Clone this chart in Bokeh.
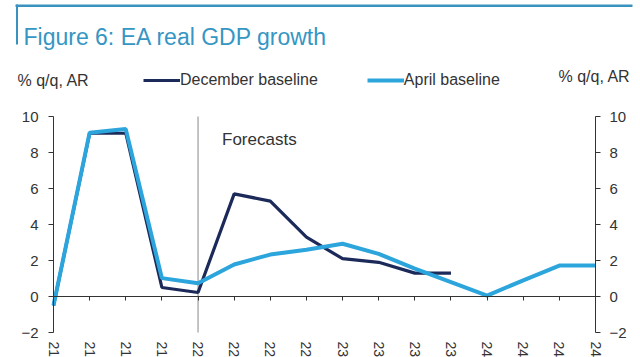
from bokeh.plotting import figure
from bokeh.models import (Range1d, LinearAxis, FixedTicker, Label, Legend, LegendItem,
                          BoxAnnotation)
from bokeh.embed import file_html
from bokeh.resources import INLINE

# ---- data ----
quarter_labels = ["21", "21", "21", "21", "22", "22", "22", "22",
                  "23", "23", "23", "23", "24", "24", "24", "24"]
december_baseline = [-0.5, 9.07, 9.07, 0.5, 0.22, 5.7, 5.3, 3.3, 2.1, 1.9, 1.3, 1.3]
april_baseline = [-0.5, 9.1, 9.3, 1.02, 0.74, 1.78, 2.33, 2.6, 2.93, 2.37, 1.55, 0.8,
                  0.05, 0.9, 1.72, 1.72]
y_ticks = [-2, 0, 2, 4, 6, 8, 10]
forecast_start = 4

FONT = "Liberation Sans"
TXT = "#333333"
DARK = "#1C2A5A"
LIGHT = "#2CA5DC"
TEAL = "#3A93BE"

W, H = 640, 357
# plot-area geometry in pixels (left, right, top, bottom of the axes box)
PL, PR, PT, PB = 53, 595, 116, 332

x_idx = list(range(len(quarter_labels)))
x_lo, x_hi = x_idx[0], x_idx[-1]
y_lo, y_hi = y_ticks[0], y_ticks[-1]
sx = (PR - PL) / (x_hi - x_lo)
sy = (PB - PT) / (y_hi - y_lo)
x_range = Range1d(x_lo - PL / sx, x_hi + (W - PR) / sx)
y_range = Range1d(y_lo - (H - PB) / sy, y_hi + PT / sy)

p = figure(width=W, height=H, output_backend="svg", toolbar_location=None,
           x_range=x_range, y_range=y_range,
           min_border=0, x_axis_location=None, y_axis_location=None)
p.outline_line_color = None
p.xgrid.visible = False
p.ygrid.visible = False
p.background_fill_color = "white"
p.border_fill_color = "white"

def style_y(ax, standoff):
    ax.ticker = FixedTicker(ticks=y_ticks)
    ax.bounds = (y_lo, y_hi)
    ax.axis_line_color = TXT
    ax.major_tick_line_color = TXT
    ax.major_tick_out = 5
    ax.major_tick_in = 0
    ax.minor_tick_line_color = None
    ax.major_label_text_font = FONT
    ax.major_label_text_font_size = "15px"
    ax.major_label_text_color = TXT
    ax.major_label_standoff = standoff

yl = LinearAxis(fixed_location=x_lo)
style_y(yl, 10)
p.add_layout(yl, "left")
yr = LinearAxis(fixed_location=x_hi)
style_y(yr, 9)
p.add_layout(yr, "right")

# zero axis line with ticks
x0 = LinearAxis(fixed_location=0)
x0.ticker = FixedTicker(ticks=x_idx)
x0.bounds = (x_lo, x_hi)
x0.axis_line_color = TXT
x0.major_tick_line_color = TXT
x0.major_tick_out = 4
x0.major_tick_in = 0
x0.minor_tick_line_color = None
x0.major_label_overrides = {i: "" for i in x_idx}
x0.major_label_standoff = 0
p.add_layout(x0, "below")

# label axis at the bottom of the axes box
xl = LinearAxis(fixed_location=y_lo)
xl.ticker = FixedTicker(ticks=x_idx)
xl.bounds = (x_lo, x_hi)
xl.major_label_overrides = {i: s for i, s in enumerate(quarter_labels)}
xl.axis_line_color = None
xl.major_tick_line_color = None
xl.minor_tick_line_color = None
xl.major_tick_out = 0
xl.major_label_orientation = "vertical"
xl.major_label_standoff = 9
xl.major_label_text_font = FONT
xl.major_label_text_font_size = "14px"
xl.major_label_text_color = TXT
p.add_layout(xl, "below")

# forecast divider
p.segment(x0=[forecast_start], y0=[y_lo], x1=[forecast_start], y1=[y_hi],
          line_color="#8a8a8a", line_width=1)
p.add_layout(Label(x=forecast_start, y=139, x_units="data", y_units="canvas", x_offset=24,
                   text="Forecasts", text_font=FONT, text_font_size="17px",
                   text_color=TXT, text_baseline="alphabetic"))

r_dec = p.line(x_idx[:len(december_baseline)], december_baseline, line_color=DARK, line_width=3.2)
r_apr = p.line(x_idx, april_baseline, line_color=LIGHT, line_width=4)

legend = Legend(items=[LegendItem(label="December baseline", renderers=[r_dec]),
                       LegendItem(label="April baseline", renderers=[r_apr])],
                orientation="horizontal", location=(143, 268),
                label_text_font=FONT, label_text_font_size="16px", label_text_color=TXT,
                label_standoff=0, glyph_width=37, glyph_height=18, spacing=49,
                padding=0, margin=0, border_line_color=None, background_fill_alpha=0)
p.add_layout(legend, "center")

# axis unit labels
for xx, yy in [(17, 80), (558, 76)]:
    p.add_layout(Label(x=xx, y=yy, x_units="canvas", y_units="canvas", text="% q/q, AR",
                       text_font=FONT, text_font_size="16px", text_color=TXT,
                       text_baseline="alphabetic"))

# header
p.add_layout(BoxAnnotation(left=15, right=632, top=4, bottom=6.5, left_units="canvas",
                           right_units="canvas", top_units="canvas", bottom_units="canvas",
                           fill_color=TEAL, fill_alpha=1, line_color=None))
p.add_layout(BoxAnnotation(left=15.5, right=17.5, top=4, bottom=44, left_units="canvas",
                           right_units="canvas", top_units="canvas", bottom_units="canvas",
                           fill_color=TEAL, fill_alpha=1, line_color=None))
p.add_layout(Label(x=23, y=36, x_units="canvas", y_units="canvas",
                   text="Figure 6: EA real GDP growth", text_font=FONT, text_font_size="23px",
                   text_color="#3596C4", text_baseline="alphabetic"))

open("out.html", "w").write(file_html(p, INLINE))
